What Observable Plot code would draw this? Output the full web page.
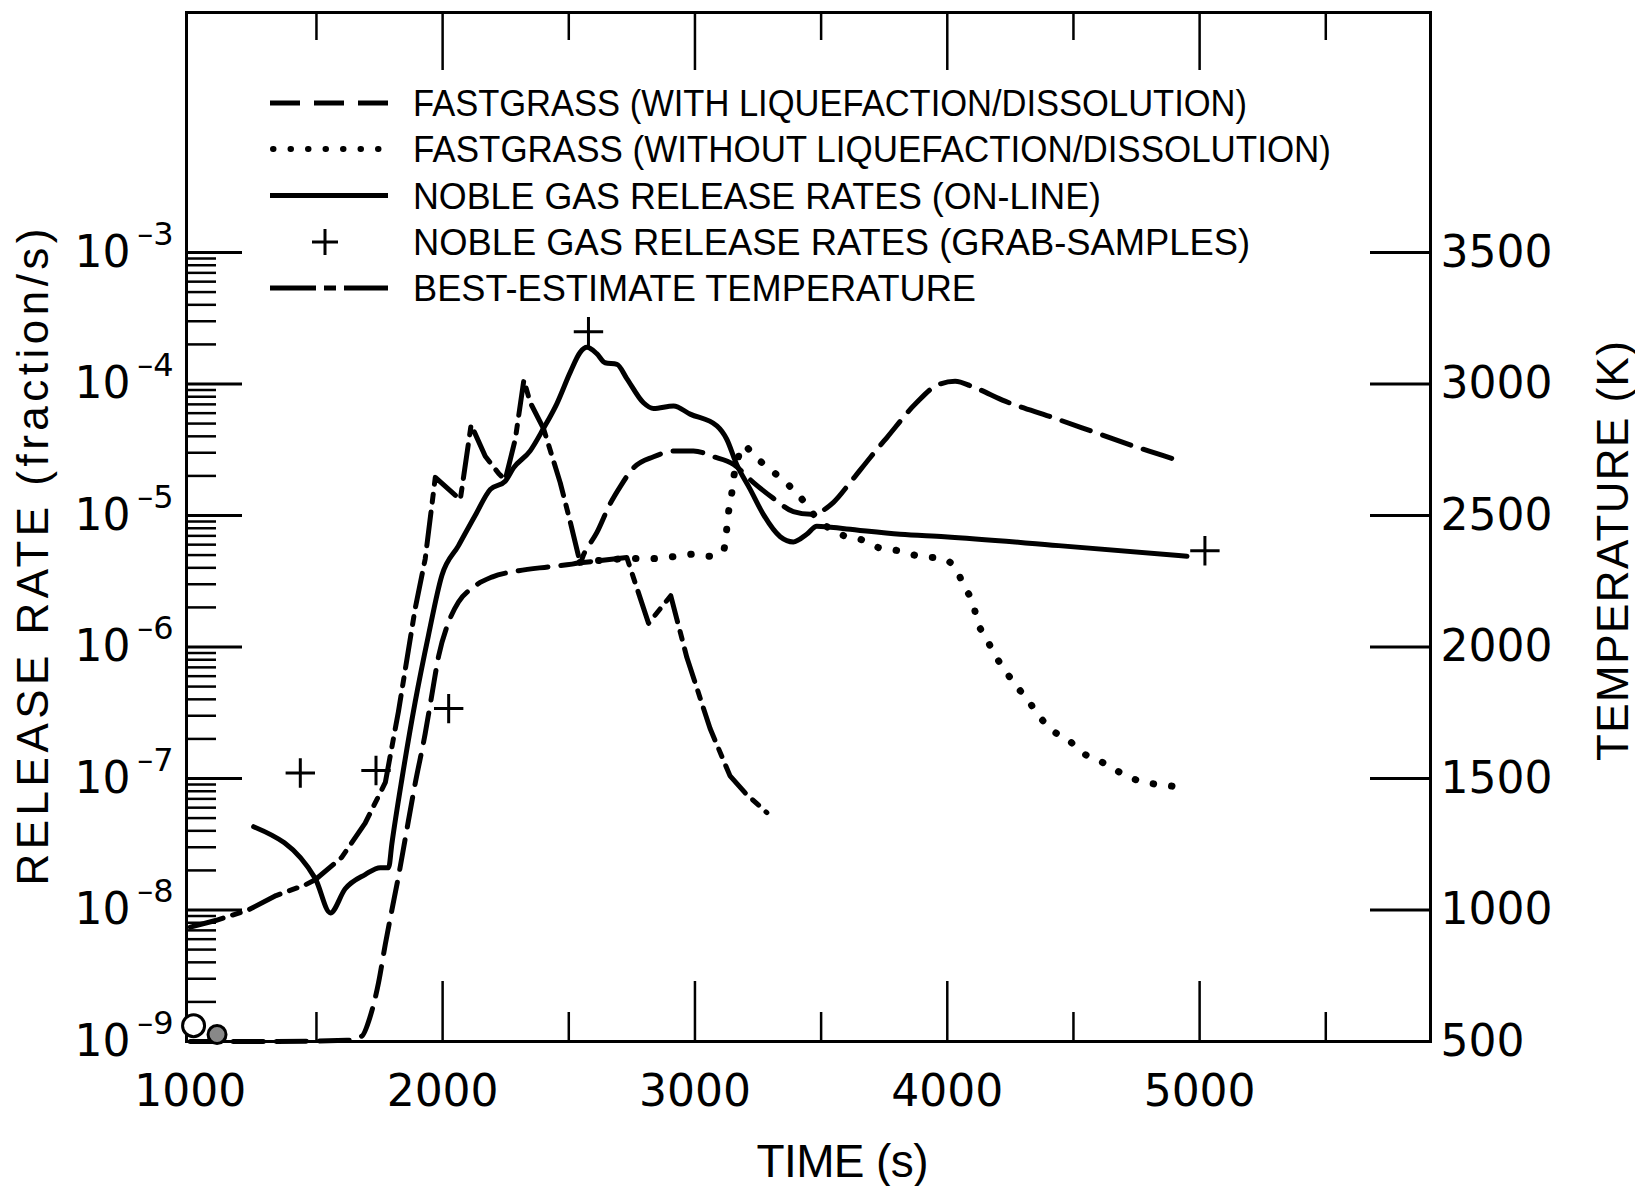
<!DOCTYPE html>
<html><head><meta charset="utf-8">
<script src="https://cdn.jsdelivr.net/npm/d3@7"></script>
<script src="https://cdn.jsdelivr.net/npm/@observablehq/plot@0.6"></script>
<style>
body{margin:0;background:#fff;}
#wrap{position:relative;width:1635px;height:1186px;}
#legend{position:absolute;left:0;top:0;pointer-events:none;}
</style></head><body><div id="wrap"></div>
<script>
// ---- data ----
// FASTGRASS (with liquefaction/dissolution) release rate (fraction/s)
const withLiqTime = [1000, 1300, 1620, 1680, 1713, 1746, 1773, 1799, 1825, 1852, 1891, 1931, 1958, 1984, 2024, 2063, 2116, 2195, 2301, 2433, 2545, 2560, 2611, 2664, 2704, 2756, 2836, 2928, 2994, 3073, 3153, 3232, 3311, 3390, 3460, 3549, 3615, 3694, 3760, 3875, 3960, 4031, 4102, 4229, 4413, 4583, 4753, 4922];
const withLiqRate = [1.0e-9, 1.0e-9, 1.02e-9, 1.1e-9, 1.55e-9, 2.8e-9, 5.5e-9, 1.0e-8, 1.8e-8, 3.5e-8, 9.1e-8, 2.2e-7, 4.4e-7, 8.5e-7, 1.55e-6, 2.2e-6, 2.8e-6, 3.4e-6, 3.8e-6, 4.1e-6, 4.4e-6, 5.1e-6, 7.4e-6, 1.23e-5, 1.66e-5, 2.3e-5, 2.8e-5, 3.1e-5, 3.1e-5, 2.8e-5, 2.45e-5, 1.78e-5, 1.35e-5, 1.07e-5, 1.02e-5, 1.26e-5, 1.78e-5, 2.75e-5, 3.9e-5, 7.1e-5, 9.8e-5, 1.05e-4, 9.5e-5, 7.4e-5, 5.6e-5, 4.3e-5, 3.3e-5, 2.6e-5];
// FASTGRASS (without liquefaction/dissolution), after it leaves the common branch
const withoutLiqTime = [2545, 2650, 2757, 2836, 2928, 3007, 3060, 3113, 3126, 3132, 3146, 3152, 3165, 3192, 3238, 3285, 3377, 3430, 3470, 3575, 3655, 3721, 3805, 3890, 3981, 4038, 4070, 4102, 4119, 4154, 4189, 4232, 4276, 4321, 4366, 4413, 4481, 4540, 4617, 4689, 4767, 4861, 4944];
const withoutLiqRate = [4.4e-6, 4.6e-6, 4.7e-6, 4.7e-6, 4.9e-6, 5.1e-6, 4.9e-6, 5.4e-6, 7.9e-6, 1.02e-5, 1.48e-5, 1.86e-5, 2.45e-5, 3.4e-5, 2.8e-5, 2.35e-5, 1.66e-5, 1.29e-5, 1.02e-5, 7.2e-6, 6.6e-6, 5.75e-6, 5.4e-6, 4.9e-6, 4.7e-6, 3.8e-6, 2.8e-6, 2.15e-6, 1.58e-6, 1.17e-6, 8.7e-7, 6.5e-7, 5.0e-7, 3.9e-7, 2.95e-7, 2.35e-7, 1.95e-7, 1.55e-7, 1.32e-7, 1.1e-7, 9.5e-8, 8.9e-8, 8.5e-8];
// Noble gas release rates (on-line)
const onlineTime = [1251, 1495, 1555, 1614, 1693, 1753, 1786, 1799, 1839, 1891, 1944, 1997, 2063, 2129, 2189, 2248, 2281, 2347, 2400, 2453, 2506, 2545, 2572, 2611, 2644, 2691, 2730, 2796, 2836, 2915, 2981, 3087, 3126, 3165, 3219, 3271, 3338, 3390, 3443, 3483, 3601, 3813, 3989, 4441, 4950];
const onlineRate = [4.3e-8, 1.74e-8, 9.5e-9, 1.45e-8, 1.86e-8, 2.1e-8, 2.1e-8, 3.2e-8, 1.0e-7, 3.8e-7, 1.23e-6, 3.5e-6, 5.9e-6, 1.0e-5, 1.58e-5, 1.82e-5, 2.3e-5, 3.1e-5, 4.6e-5, 7.1e-5, 1.23e-4, 1.74e-4, 1.9e-4, 1.7e-4, 1.45e-4, 1.41e-4, 1.1e-4, 7.2e-5, 6.5e-5, 6.8e-5, 5.9e-5, 4.8e-5, 3.8e-5, 2.45e-5, 1.58e-5, 1.02e-5, 6.9e-6, 6.3e-6, 7.2e-6, 8.3e-6, 7.9e-6, 7.2e-6, 6.9e-6, 5.9e-6, 4.9e-6];
// Noble gas release rates (grab samples)
const grabTime = [1436, 1736, 2024, 2578, 5021];
const grabRate = [1.1e-7, 1.15e-7, 3.4e-7, 2.5e-4, 5.4e-6];
// Best-estimate temperature (K)
const tempTime = [1000, 1100, 1230, 1340, 1455, 1495, 1600, 1693, 1773, 1825, 1891, 1931, 1971, 2070, 2113, 2169, 2222, 2248, 2288, 2322, 2347, 2400, 2466, 2506, 2545, 2730, 2816, 2904, 2968, 3060, 3139, 3199, 3285];
const tempK = [935, 960, 1000, 1055, 1095, 1115, 1200, 1330, 1485, 1755, 2145, 2335, 2645, 2560, 2845, 2725, 2660, 2635, 2790, 3015, 2930, 2830, 2625, 2475, 2320, 2340, 2090, 2195, 1960, 1690, 1510, 1445, 1370];
// small open circles near the origin
const circleTime = [1013, 1106];
const circleRate = [1.32e-9, 1.13e-9];
// axis ticks / labels
const xMajorTicks = [2000, 3000, 4000, 5000];
const xMinorTicks = [1500, 2500, 3500, 4500, 5500];
const xTickLabels = [1000, 2000, 3000, 4000, 5000];
const rateDecades = [1e-9, 1e-8, 1e-7, 1e-6, 1e-5, 1e-4, 1e-3];
const rateMinor = [];
for (let k = -9; k <= -4; k++) for (let m = 2; m <= 9; m++) rateMinor.push(m * 10 ** k);
const tempTicks = [500, 1000, 1500, 2000, 2500, 3000, 3500];
const legendLabels = [
  "FASTGRASS (WITH LIQUEFACTION/DISSOLUTION)",
  "FASTGRASS (WITHOUT LIQUEFACTION/DISSOLUTION)",
  "NOBLE GAS RELEASE RATES (ON-LINE)",
  "NOBLE GAS RELEASE RATES (GRAB-SAMPLES)",
  "BEST-ESTIMATE TEMPERATURE"
];
const xTitle = "TIME (s)";
const yTitle = "RELEASE RATE (fraction/s)";
const y2Title = "TEMPERATURE (K)";

// ---- helpers ----
const rows = (ts, vs) => ts.map((t, i) => ({t, v: vs[i]}));
const tempToRate = T => 10 ** (-9 + (T - 500) / 500);
const rateToTemp = r => Math.round(500 + (Math.log10(r) + 9) * 500);

const withLiq = rows(withLiqTime, withLiqRate);
const withoutLiq = rows(withoutLiqTime, withoutLiqRate);
const online = rows(onlineTime, onlineRate);
const grab = rows(grabTime, grabRate);
const temp = rows(tempTime, tempK);
const circles = rows(circleTime, circleRate);

const W = 1635, H = 1186, ML = 186, MR = 205, MT = 12, MB = 145;
const FW = W - ML - MR, FH = H - MT - MB;
const numFont = "DejaVu Sans";

const DASH = "30,13", DOT = "0.5,18", DASHDOT = "34,10,8,10";

const plot = Plot.plot({
  width: W, height: H,
  marginLeft: ML, marginRight: MR, marginTop: MT, marginBottom: MB,
  style: {background: "white", fontFamily: "Liberation Sans", color: "black"},
  x: {domain: [985, 5915], label: null},
  y: {type: "log", domain: [1e-9, 10 ** -1.175], label: null},
  marks: [
    Plot.frame({stroke: "black", strokeWidth: 3}),
    // x ticks (inward), top and bottom
    Plot.tickX(xMajorTicks, {x: d => d, insetBottom: FH - 58, strokeWidth: 2.5}),
    Plot.tickX(xMinorTicks, {x: d => d, insetBottom: FH - 28, strokeWidth: 2.5}),
    Plot.tickX(xMajorTicks, {x: d => d, insetTop: FH - 60, strokeWidth: 2.5}),
    Plot.tickX(xMinorTicks, {x: d => d, insetTop: FH - 29, strokeWidth: 2.5}),
    // left log ticks (inward)
    Plot.tickY(rateDecades, {y: d => d, insetRight: FW - 56, strokeWidth: 3}),
    Plot.tickY(rateMinor, {y: d => d, insetRight: FW - 30, strokeWidth: 2.5}),
    // right temperature ticks (inward)
    Plot.tickY(tempTicks, {y: d => tempToRate(d), insetLeft: FW - 60, strokeWidth: 3}),
    Plot.axisX({anchor: "bottom", ticks: xTickLabels, tickSize: 0, tickPadding: 33,
      fontSize: 44, fontFamily: numFont, tickFormat: d => String(d), label: null}),
    Plot.axisY({anchor: "left", ticks: rateDecades, tickSize: 0, tickPadding: 56,
      fontSize: 44, fontFamily: numFont, tickFormat: () => "10", label: null}),
    Plot.axisY({anchor: "left", ticks: rateDecades, tickSize: 0, tickPadding: 13, dy: -18,
      fontSize: 32, fontFamily: numFont, tickFormat: d => "\u2013" + Math.round(-Math.log10(d)), label: null}),
    Plot.axisY({anchor: "right", ticks: tempTicks.map(tempToRate), tickSize: 0, tickPadding: 10,
      fontSize: 44, fontFamily: numFont, tickFormat: d => String(rateToTemp(d)), label: null}),
    // curves
    Plot.line(withLiq, {x: "t", y: "v", curve: "monotone-x", stroke: "black", strokeWidth: 5, strokeDasharray: DASH}),
    Plot.line(withoutLiq, {x: "t", y: "v", curve: "monotone-x", stroke: "black", strokeWidth: 7, strokeDasharray: DOT, strokeLinecap: "round"}),
    Plot.line(online, {x: "t", y: "v", curve: "monotone-x", stroke: "black", strokeWidth: 5}),
    Plot.line(temp, {x: "t", y: d => tempToRate(d.v), stroke: "black", strokeWidth: 5, strokeDasharray: DASHDOT}),
    Plot.dot(grab, {x: "t", y: "v", symbol: "plus", r: 9.5, stroke: "black", strokeWidth: 3}),
    Plot.dot(circles.slice(0, 1), {x: "t", y: "v", r: 11, fill: "white", stroke: "black", strokeWidth: 3}),
    Plot.dot(circles.slice(1), {x: "t", y: "v", r: 9, fill: "#888", stroke: "black", strokeWidth: 3}),
    // axis titles
    Plot.text([yTitle], {frameAnchor: "left", text: d => d, rotate: -90, dx: -139, dy: 30,
      lineAnchor: "bottom", textAnchor: "middle", fontSize: 44}),
    Plot.text([xTitle], {frameAnchor: "bottom", text: d => d, dx: 34, dy: 135,
      lineAnchor: "bottom", textAnchor: "middle", fontSize: 46}),
    Plot.text([y2Title], {frameAnchor: "right", text: d => d, rotate: -90, dx: 197, dy: 24,
      lineAnchor: "bottom", textAnchor: "middle", fontSize: 44})
  ]
});

const wrap = document.getElementById("wrap");
wrap.appendChild(plot);

// stretch titles to the reference lengths
const fits = {[yTitle]: 657, [xTitle]: 172, [y2Title]: 420};
d3.select(plot).selectAll("text").each(function () {
  const t = this.textContent;
  if (fits[t]) d3.select(this).attr("textLength", fits[t]).attr("lengthAdjust", "spacing");
});

// legend overlay
const leg = d3.select(wrap).append("svg").attr("id", "legend").attr("width", W).attr("height", H);
const rowY = [103, 149, 195.5, 242, 288];
const rowLen = [834, 918, 688, 837, 563];
const styles = ["dash", "dot", "solid", "plus", "dashdot"];
styles.forEach((s, i) => {
  const y = rowY[i];
  if (s === "plus") {
    leg.append("path").attr("d", `M${312},${y}H${338}M${325},${y - 13}V${y + 13}`)
      .attr("stroke", "black").attr("stroke-width", 3).attr("fill", "none");
  } else {
    const ln = leg.append("line").attr("x1", 270).attr("x2", 388).attr("y1", y).attr("y2", y)
      .attr("stroke", "black");
    if (s === "dash") ln.attr("stroke-width", 5).attr("stroke-dasharray", "30,14");
    if (s === "dot") ln.attr("stroke-width", 6).attr("stroke-dasharray", "0.5,17").attr("stroke-linecap", "round").attr("x1", 273);
    if (s === "solid") ln.attr("stroke-width", 5);
    if (s === "dashdot") ln.attr("stroke-width", 5).attr("stroke-dasharray", "46,8,12,8");
  }
  leg.append("text").attr("x", 413).attr("y", y + 13).attr("font-family", "Liberation Sans")
    .attr("font-size", 36).attr("textLength", rowLen[i]).attr("lengthAdjust", "spacingAndGlyphs")
    .text(legendLabels[i]);
});
</script>
</body></html>
